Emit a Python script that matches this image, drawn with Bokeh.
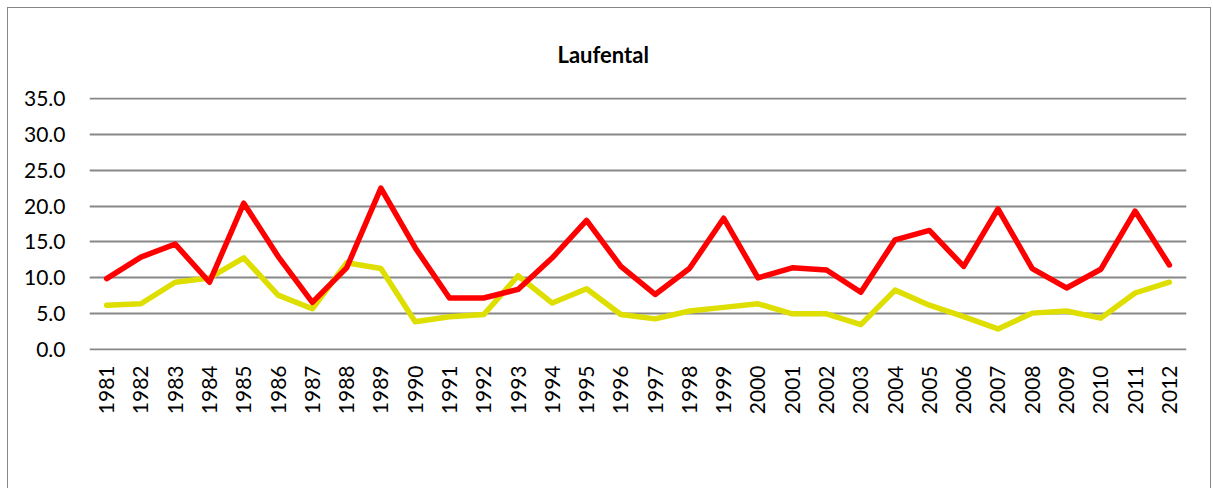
import math
from bokeh.plotting import figure
from bokeh.models import FactorRange, Range1d, Legend, LegendItem, NumeralTickFormatter, FixedTicker
from bokeh.embed import file_html
from bokeh.resources import INLINE

years = [str(y) for y in range(1981, 2013)]
restbern = [6.2, 6.4, 9.4, 10.0, 12.8, 7.6, 5.7, 12.1, 11.3, 3.9, 4.6, 4.9, 10.3, 6.5, 8.5, 4.9,
            4.3, 5.4, 5.9, 6.4, 5.0, 5.0, 3.5, 8.3, 6.2, 4.6, 2.9, 5.1, 5.4, 4.4, 7.9, 9.4]
jura = [9.9, 12.9, 14.7, 9.4, 20.4, 13.0, 6.6, 11.4, 22.5, 14.2, 7.2, 7.2, 8.4, 12.8, 18.0, 11.6,
        7.7, 11.3, 18.3, 10.0, 11.4, 11.1, 8.0, 15.3, 16.6, 11.6, 19.6, 11.3, 8.6, 11.2, 19.3, 11.8]
y_ticks = [0, 5, 10, 15, 20, 25, 30, 35]
title_text = "Laufental"
label_restbern = "Mittlere Differenz zu Restbern"
label_jura = "Mittlere Differenz zum Kanton Jura"

FONT = "Lato"

p = figure(frame_width=1097, frame_height=253, x_range=FactorRange(*years, range_padding=0),
           y_range=Range1d(-0.1, 35.1), output_backend="svg", toolbar_location=None,
           min_border_left=81, min_border_right=24, min_border_top=88, min_border_bottom=140,
           title=title_text)
p.styles = {"border": "1px solid #878787"}
p.margin = (7, 0, 0, 7)
p.outline_line_color = None
p.background_fill_color = "white"
p.border_fill_color = "white"

p.title.align = "left"
p.title.offset = 468
p.title.vertical_align = "bottom"
p.title.text_font = FONT
p.title.text_font_size = "22px"
p.title.text_font_style = "bold"
p.title.text_color = "black"
p.title.standoff = 60

r1 = p.line(years, restbern, line_color="#dede00", line_width=5.5, line_join="round", line_cap="round")
r2 = p.line(years, jura, line_color="#ff0000", line_width=5.5, line_join="round", line_cap="round")

p.xgrid.grid_line_color = None
p.ygrid.grid_line_color = "#878787"
p.ygrid.grid_line_width = 1.8
p.ygrid.ticker = FixedTicker(ticks=y_ticks)

p.yaxis.ticker = FixedTicker(ticks=y_ticks)
p.yaxis.formatter = NumeralTickFormatter(format="0.0")
for ax in (p.xaxis, p.yaxis):
    ax.axis_line_color = None
    ax.major_tick_line_color = None
    ax.minor_tick_line_color = None
    ax.major_label_text_font = FONT
    ax.major_label_text_font_size = "21px"
    ax.major_label_text_color = "black"
p.yaxis.major_label_standoff = 18
p.xaxis.major_label_orientation = math.pi / 2
p.xaxis.major_label_standoff = 9

legend = Legend(items=[LegendItem(label=label_restbern, renderers=[r1]),
                       LegendItem(label=label_jura, renderers=[r2])],
                orientation="horizontal", location=(120, 26),
                glyph_width=56, glyph_height=20, label_standoff=4, spacing=58,
                padding=0, margin=0, border_line_color=None, background_fill_alpha=0,
                label_text_font=FONT, label_text_font_size="22px", label_text_color="black",
                label_height=20)
p.add_layout(legend, "below")

open("out.html", "w").write(file_html(p, INLINE))
